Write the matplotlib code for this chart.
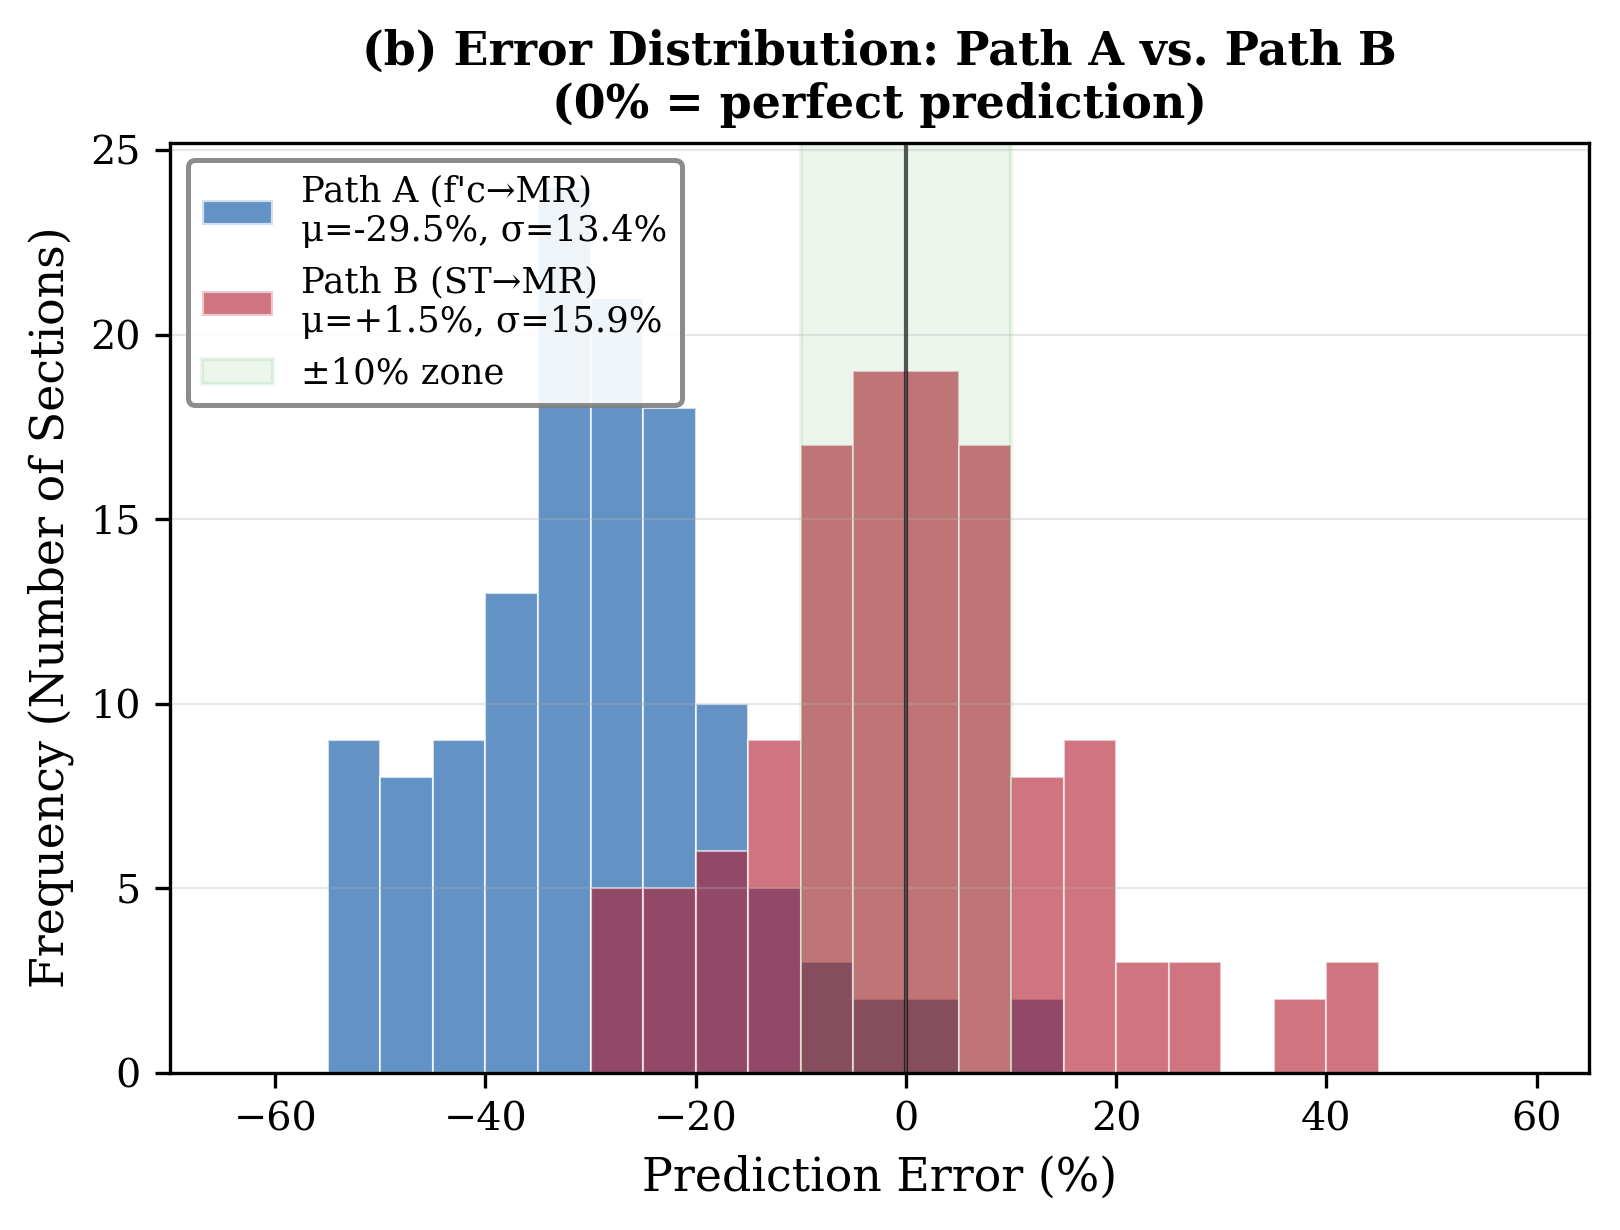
"""Histogramme des erreurs de prediction, Path A vs Path B."""

import matplotlib

matplotlib.use("Agg")
import matplotlib.pyplot as plt
from matplotlib.patches import Patch

# bords des classes (pas de 5 %)
bin_edges = [-55, -50, -45, -40, -35, -30, -25, -20, -15, -10, -5, 0, 5, 10,
             15, 20, 25, 30, 35, 40, 45]
counts_a = [9, 8, 9, 13, 24, 21, 18, 10, 5, 3, 2, 2, 0, 2, 0, 0, 0, 0, 0, 0]
counts_b = [0, 0, 0, 0, 0, 5, 5, 6, 9, 17, 19, 19, 17, 8, 9, 3, 3, 0, 2, 3]
label_a = "Path A (f'c→MR)\nμ=-29.5%, σ=13.4%"
label_b = "Path B (ST→MR)\nμ=+1.5%, σ=15.9%"
zone_lo, zone_hi = -10, 10

plt.rcParams["font.family"] = "DejaVu Serif"

fig, ax = plt.subplots(figsize=(5.4, 4.1), dpi=300)
fig.subplots_adjust(left=0.105, right=0.981, top=0.884, bottom=0.128)

centers = bin_edges[:-1]
ax.hist(centers, bins=bin_edges, weights=counts_a, color="#2166AC", alpha=0.7,
        edgecolor="white", linewidth=0.5)
ax.hist(centers, bins=bin_edges, weights=counts_b, color="#B2182B", alpha=0.6,
        edgecolor="white", linewidth=0.5)
ax.axvspan(zone_lo, zone_hi, color="green", alpha=0.08)
ax.axvline(0, color="black", lw=1.0, alpha=0.65)

ax.set_xlim(-70, 65)
ax.set_xlabel("Prediction Error (%)", fontsize=11)
ax.set_ylabel("Frequency (Number of Sections)", fontsize=11)
ax.set_title("(b) Error Distribution: Path A vs. Path B\n(0% = perfect prediction)",
             fontsize=11, fontweight="bold")
ax.tick_params(labelsize=9.5)
ax.grid(axis="y", alpha=0.3, lw=0.5)

handles = [
    Patch(facecolor="#2166AC", alpha=0.7, edgecolor="white", label=label_a),
    Patch(facecolor="#B2182B", alpha=0.6, edgecolor="white", label=label_b),
    Patch(facecolor="green", alpha=0.08, edgecolor="green", label="±10% zone"),
]
leg = ax.legend(handles=handles, loc="upper left", fontsize=8.5, framealpha=0.9,
                edgecolor="gray")
leg.get_frame().set_linewidth(1.2)

fig.savefig("out.png", dpi=300)
